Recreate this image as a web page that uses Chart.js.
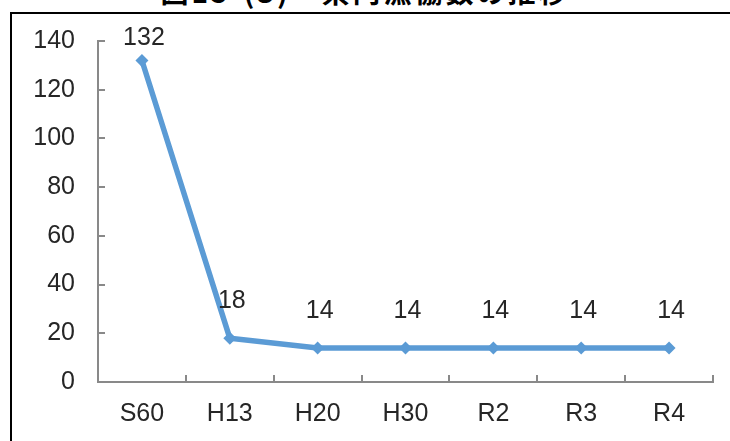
<!DOCTYPE html>
<html lang="ja">
<head>
<meta charset="utf-8">
<script src="https://cdn.jsdelivr.net/npm/chart.js@4/dist/chart.umd.min.js"></script>
<style>
  html, body { margin: 0; padding: 0; background: #fff; overflow: hidden; }
  #wrap { position: relative; width: 730px; height: 441px; }
  #frame { position: absolute; left: 10px; top: 12px; width: 760px; height: 480px;
           border: 2px solid #000; box-sizing: border-box; }
  #title { position: absolute; left: 0; width: 730px; top: -29px; text-align: center;
           font: bold 28px "Noto Sans CJK JP", sans-serif; letter-spacing: 3px;
           color: #000; white-space: pre; }
  canvas { position: absolute; left: 0; top: 0; }
</style>
</head>
<body>
<div id="wrap">
  <div id="title">図15-(3)　県内漁協数の推移</div>
  <div id="frame"></div>
  <canvas id="c" width="730" height="441"></canvas>
</div>
<script>
// Number of fishery cooperatives in the prefecture, by year
const categories = ['S60', 'H13', 'H20', 'H30', 'R2', 'R3', 'R4'];
const cooperatives = [132, 18, 14, 14, 14, 14, 14];
const yTicks = [0, 20, 40, 60, 80, 100, 120, 140];

const FONT = '"Liberation Sans", Arial, sans-serif';
const AXIS = '#898989';
const TEXT = '#262626';

// Short tick marks pointing into the plot area, Excel style
const innerTicks = {
  id: 'innerTicks',
  afterDraw(chart) {
    const { ctx, chartArea: a, scales: { x, y } } = chart;
    ctx.save();
    ctx.strokeStyle = AXIS;
    ctx.lineWidth = 2;
    ctx.beginPath();
    yTicks.forEach(v => {
      const py = Math.round(y.getPixelForValue(v));
      ctx.moveTo(a.left, py); ctx.lineTo(a.left + 7, py);
    });
    for (let i = 0; i <= categories.length; i++) {
      const px = Math.round(a.left + (a.right - a.left) * i / categories.length);
      ctx.moveTo(px, a.bottom); ctx.lineTo(px, a.bottom - 7);
    }
    ctx.stroke();
    ctx.restore();
  }
};

// Value labels above each point
const valueLabels = {
  id: 'valueLabels',
  afterDatasetsDraw(chart) {
    const { ctx } = chart;
    const meta = chart.getDatasetMeta(0);
    ctx.save();
    ctx.font = '25px ' + FONT;
    ctx.fillStyle = TEXT;
    ctx.textAlign = 'center';
    ctx.textBaseline = 'middle';
    meta.data.forEach((pt, i) => {
      const ly = Math.max(pt.y - 37, 38);
      ctx.fillText(String(cooperatives[i]), pt.x + 2, ly);
    });
    ctx.restore();
  }
};

new Chart(document.getElementById('c'), {
  type: 'line',
  data: {
    labels: categories,
    datasets: [{
      data: cooperatives,
      borderColor: '#5b9bd5',
      backgroundColor: '#5b9bd5',
      borderWidth: 5.5,
      pointStyle: 'rectRot',
      pointRadius: 6.5,
      pointBorderWidth: 0,
      tension: 0
    }]
  },
  options: {
    responsive: false,
    animation: false,
    devicePixelRatio: 1,
    layout: { padding: { left: 0, top: 41, right: 17, bottom: 0 } },
    plugins: { legend: { display: false }, tooltip: { enabled: false } },
    scales: {
      x: {
        offset: true,
        grid: { display: false, drawTicks: false },
        border: { display: true, color: AXIS, width: 2 },
        ticks: { color: TEXT, font: { family: FONT, size: 25 }, padding: 17, maxRotation: 0 },
        afterFit(s) { s.height = 59; }
      },
      y: {
        min: 0, max: 140,
        afterBuildTicks(s) { s.ticks = yTicks.map(v => ({ value: v })); },
        grid: { display: false, drawTicks: false },
        border: { display: true, color: AXIS, width: 2 },
        ticks: { color: TEXT, font: { family: FONT, size: 25 }, padding: 23 },
        afterFit(s) { s.width = 98; }
      }
    }
  },
  plugins: [innerTicks, valueLabels]
});
</script>
</body>
</html>
